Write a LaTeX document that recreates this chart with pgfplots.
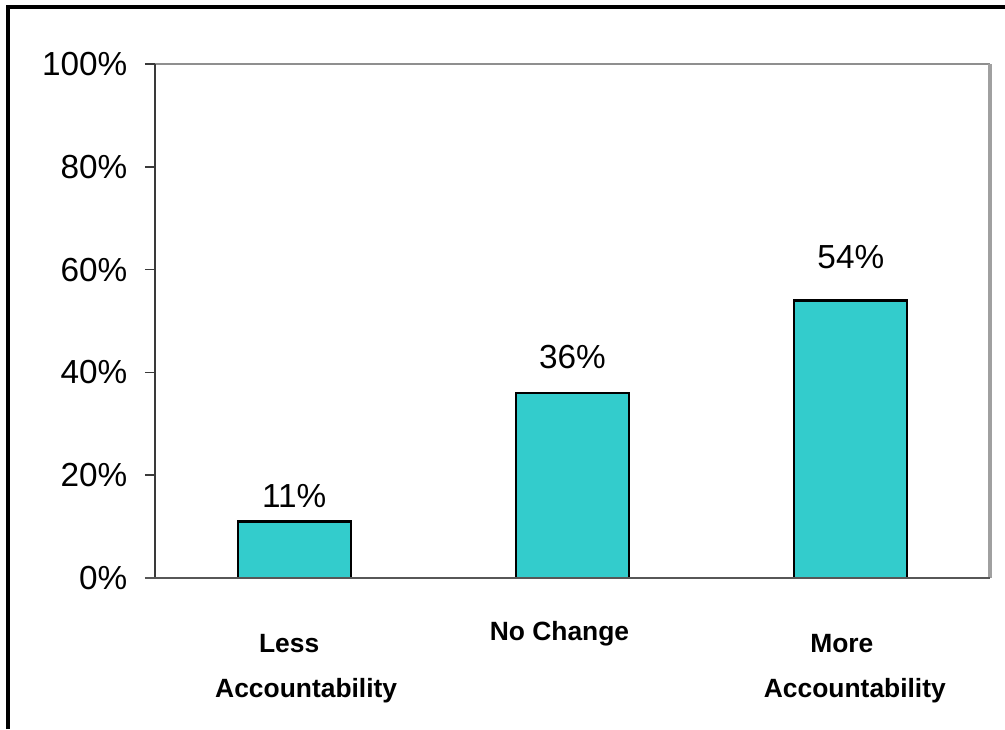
\documentclass[border=0pt]{standalone}
\usepackage{fontspec}
\setmainfont{Liberation Sans}
\usepackage{pgfplots}
\pgfplotsset{compat=1.18}
\definecolor{barfill}{HTML}{33CCCC}
\definecolor{axisdark}{HTML}{3A3A3A}
\definecolor{framegray}{HTML}{8F8F8F}
\begin{document}
\begin{tikzpicture}
\useasboundingbox (0pt,0pt) rectangle (753.75pt,546.75pt);
% outer frame
\draw[line width=2.3pt] (6pt,0pt) -- (6pt,541.5pt) -- (753.75pt,541.5pt);
\begin{axis}[
  at={(116.25pt,113.25pt)}, anchor=south west,
  scale only axis, width=626.25pt, height=385.5pt,
  xmin=-0.5, xmax=2.5, ymin=0, ymax=100,
  xtick=\empty,
  ytick={0,20,...,100},
  ytick pos=left,
  yticklabel={\pgfmathprintnumber{\tick}\%},
  /pgf/number format/assume math mode=true,
  tick align=outside, major tick length=7.5pt,
  y tick style={axisdark, line width=1.1pt},
  yticklabel style={font=\fontsize{25}{30}\selectfont, xshift=-9.75pt},
  axis line style={draw=none},
  clip=false,
]
\addplot[ybar, bar width=84.75pt, fill=barfill, draw=black, line width=1.6pt]
  coordinates {(0,11) (1,36) (2,54)};
% plot area border
\draw[framegray, line width=1.6pt] (rel axis cs:0,1) -- (rel axis cs:1,1);
\draw[framegray!85, line width=2.4pt] (rel axis cs:1,1) -- (rel axis cs:1,0);
\draw[axisdark, line width=1.4pt] (rel axis cs:0,0) -- (rel axis cs:0,1);
\draw[axisdark!85, line width=1.6pt] ([xshift=-7.5pt]rel axis cs:0,0) -- (rel axis cs:1,0);
% value labels
\begin{scope}[every node/.style={anchor=base, font=\fontsize{25}{30}\selectfont, inner sep=0pt}]
\node at (axis cs:0,13.8) {11\%};
\node at (axis cs:1,40.7) {36\%};
\node at (axis cs:2,60.3) {54\%};
\end{scope}
% category labels
\begin{scope}[every node/.style={anchor=base, font=\bfseries\fontsize{19.8}{24}\selectfont, inner sep=0pt}]
\node[xshift=-3.75pt, yshift=-55.5pt] at (axis cs:0,0) {Less};
\node[xshift=9pt, yshift=-89.5pt] at (axis cs:0,0) {Accountability};
\node[xshift=-9.75pt, yshift=-46.5pt] at (axis cs:1,0) {No Change};
\node[xshift=-6.75pt, yshift=-55.5pt] at (axis cs:2,0) {More};
\node[xshift=3pt, yshift=-89.5pt] at (axis cs:2,0) {Accountability};
\end{scope}
\end{axis}
\end{tikzpicture}
\end{document}
